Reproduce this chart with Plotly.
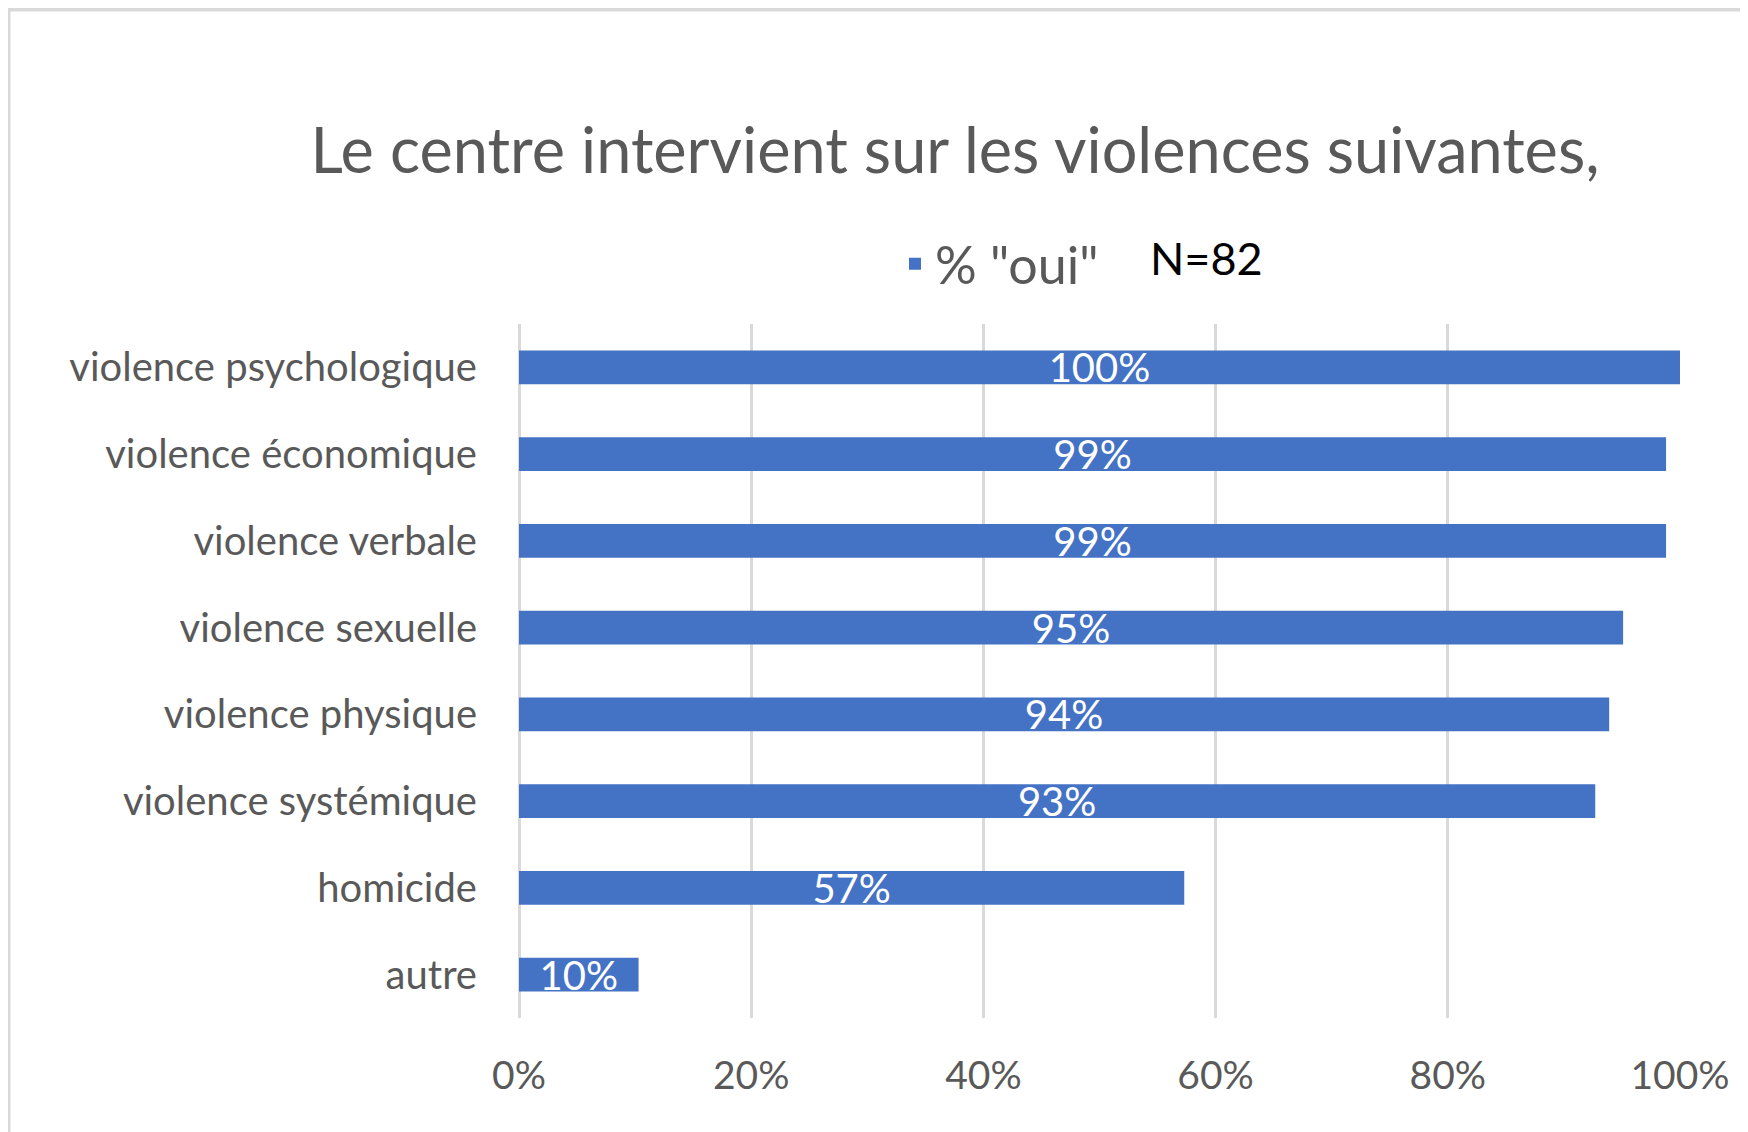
import plotly.graph_objects as go

categories = ["violence psychologique", "violence économique", "violence verbale",
              "violence sexuelle", "violence physique", "violence systémique",
              "homicide", "autre"]
values = [1.0, 0.988, 0.988, 0.951, 0.939, 0.927, 0.573, 0.103]
series_name = '% "oui"'
title_text = "Le centre intervient sur les violences suivantes,"
n_text = "N=82"
x_ticks = [0, 0.2, 0.4, 0.6, 0.8, 1.0]

# the page body adds an 8px offset, so figure coords = screen coords - 8
W, H = 1740, 1124
L, R, T, B = 511, 68, 316, 114
pw, ph = W - L - R, H - T - B

def px2x(p):
    return (p - L) / pw

def py2y(p):
    return (H - B - p) / ph

FONT = "Lato"
GRAY = "#595959"
BLUE = "#4472C4"

fig = go.Figure()
fig.add_trace(go.Bar(
    y=categories, x=values, orientation="h", name=series_name,
    marker=dict(color=BLUE, line=dict(width=0)),
    texttemplate="%{x:.0%}", textposition="inside", insidetextanchor="middle",
    textfont=dict(family=FONT, size=40, color="white"),
    cliponaxis=False, showlegend=True,
))

fig.update_layout(
    width=W, height=H,
    margin=dict(l=L, r=R, t=T, b=B, autoexpand=False),
    paper_bgcolor="#f0f1e8", plot_bgcolor="white",
    bargap=0.61,
    uniformtext=dict(minsize=40, mode="show"),
    title=dict(text=title_text, x=947 / W, xanchor="center", xref="container",
               y=1 - 142.5 / H, yanchor="middle", yref="container",
               font=dict(family=FONT, size=63, color=GRAY)),
    legend=dict(orientation="h", x=px2x(887), xanchor="left", y=py2y(256), yanchor="middle",
                font=dict(family=FONT, size=52, color=GRAY), bgcolor="rgba(0,0,0,0)"),
    font=dict(family=FONT, color=GRAY),
    shapes=[dict(type="rect", xref="paper", yref="paper", layer="below",
                 x0=px2x(0.5), x1=px2x(1800), y0=py2y(1200), y1=py2y(1.5),
                 fillcolor="white", line=dict(color="#d9d9d9", width=4))],
    annotations=[dict(text=n_text, xref="paper", yref="paper", x=px2x(1140), y=py2y(250),
                      xanchor="left", yanchor="middle", showarrow=False,
                      font=dict(family=FONT, size=45, color="black"))],
)
fig.update_xaxes(range=[0, 1], tickvals=x_ticks, tickformat=".0%",
                 showgrid=True, gridcolor="#d9d9d9", gridwidth=3,
                 zeroline=True, zerolinecolor="#d9d9d9", zerolinewidth=3,
                 showline=False, ticks="", ticklabelstandoff=31,
                 tickfont=dict(family=FONT, size=39, color=GRAY))
fig.update_yaxes(autorange="reversed", showgrid=False, showline=False, ticks="",
                 ticklabelstandoff=41,
                 tickfont=dict(family=FONT, size=40, color=GRAY))

fig.write_html("out.html")
